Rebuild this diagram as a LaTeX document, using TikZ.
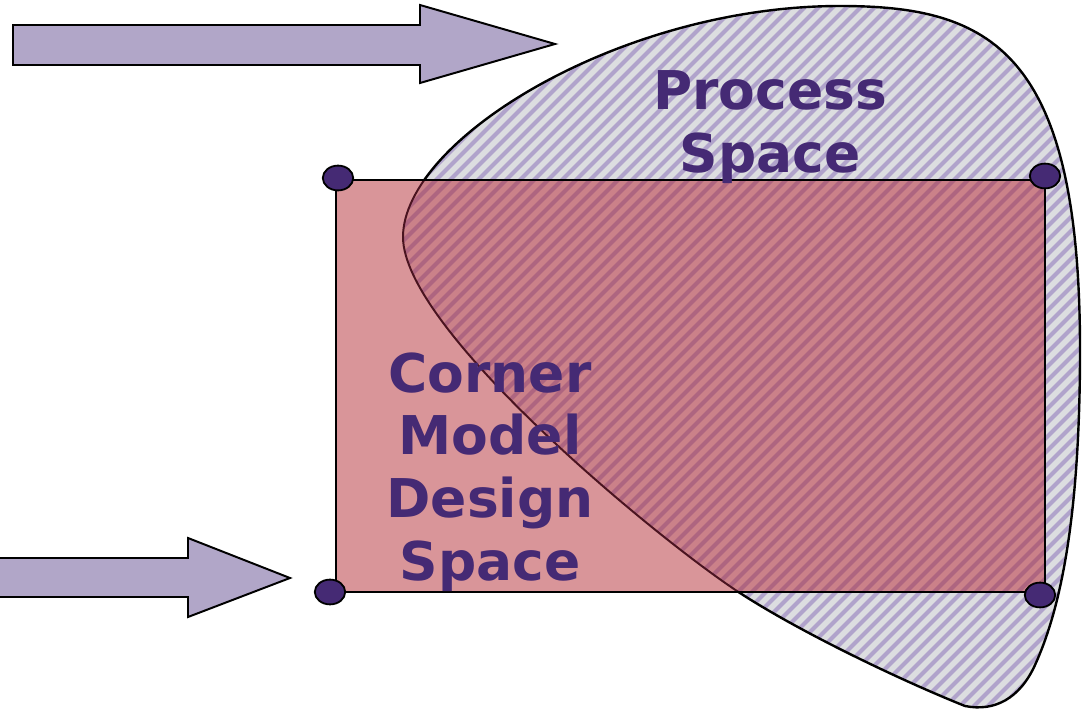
\documentclass[tikz,border=0pt]{standalone}
\usepackage{fontspec}
\setmainfont{DejaVu Sans}
\usepackage{tikz}
\usetikzlibrary{shapes.geometric}

\definecolor{arrowfill}{HTML}{B1A6C8}
\definecolor{procfill}{HTML}{DCDDE0}
\definecolor{prochatch}{HTML}{B0A3CB}
\definecolor{rectfill}{HTML}{D99599}
\definecolor{bothfill}{HTML}{CB8189}
\definecolor{bothhatch}{HTML}{AE6580}
\definecolor{bothline}{HTML}{4A1420}
\definecolor{labelcol}{HTML}{452A74}

\tikzset{
	bigarrow/.style = {draw = black, line width = 1.4pt, fill = arrowfill, line join = miter},
	hatchline/.style = {line width = 2.8pt},
	corner/.style = {draw = black, line width = 1.3pt, fill = labelcol, ellipse, minimum width = 0.76cm, minimum height = 0.62cm, inner sep = 0pt},
	spacelabel/.style = {text = labelcol, font = \bfseries\fontsize{38}{44.5}\selectfont, align = center}
}

\def\procblob{(403,237) .. controls (403,140) and (620,6) .. (840,6)
	.. controls (990,6) and (1080,50) .. (1080,350)
	.. controls (1080,520) and (1060,610) .. (1035,665)
	.. controls (1020,698) and (995,712) .. (965,706)
	.. controls (900,680) and (800,632) .. (740,593)
	.. controls (660,541) and (403,330) .. (403,237) -- cycle}

\begin{document}
\begin{tikzpicture}[x = 0.025cm, y = -0.025cm]
	\useasboundingbox (0,0) rectangle (1082,709);

	\draw [bigarrow] (13,25) -- (420,25) -- (420,5) -- (555,44) -- (420,83) -- (420,65) -- (13,65) -- cycle;
	\draw [bigarrow] (-20,558) -- (188,558) -- (188,538) -- (290,578) -- (188,617) -- (188,597) -- (-20,597) -- cycle;

	\begin{scope}
		\clip \procblob;
		\fill [procfill] (0,0) rectangle (1082,709);
		\foreach \c in {560,574,...,1820}
			\draw [hatchline, prochatch] (\c,0) -- (\c-709,709);
	\end{scope}
	\draw [line width = 1.7pt] \procblob;

	\fill [rectfill] (336,180) rectangle (1045,592);
	\begin{scope}
		\clip (336,180) rectangle (1045,592);
		\begin{scope}
			\clip \procblob;
			\fill [bothfill] (0,0) rectangle (1082,709);
			\foreach \c in {560,574,...,1820}
				\draw [hatchline, bothhatch] (\c,0) -- (\c-709,709);
		\end{scope}
		\draw [line width = 1.4pt, bothline] \procblob;
	\end{scope}
	\draw [line width = 1.3pt] (336,180) rectangle (1045,592);

	\node [corner] (tl) at (338,178) {};
	\node [corner] (tr) at (1045,176) {};
	\node [corner] (bl) at (330,592) {};
	\node [corner] (br) at (1040,595) {};

	\node [spacelabel] (process) at (770,127) {Process\\Space};
	\node [spacelabel] (design) at (490,472) {Corner\\Model\\Design\\Space};
\end{tikzpicture}
\end{document}
